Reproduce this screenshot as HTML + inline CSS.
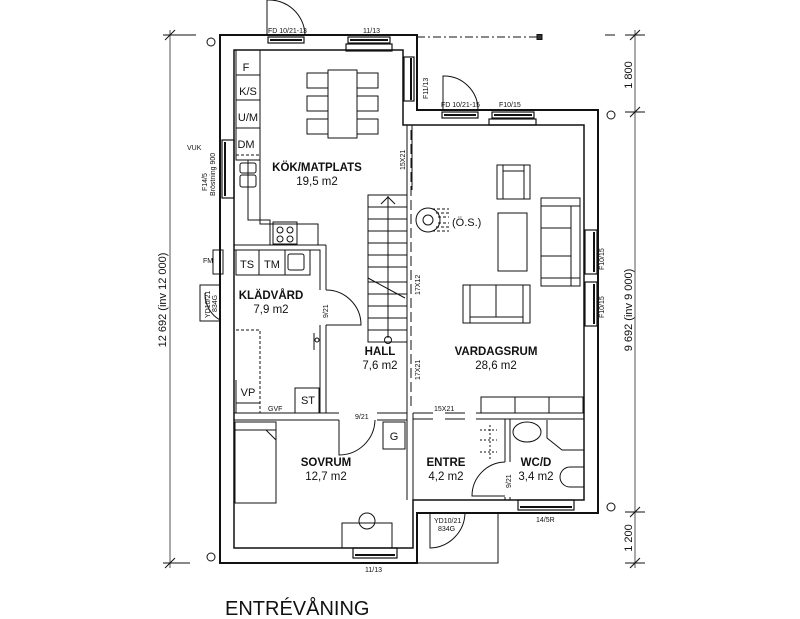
<!DOCTYPE html>
<html><head><meta charset="utf-8"><style>
html,body{margin:0;padding:0;background:#fff;}
svg{display:block;}
text{font-family:"Liberation Sans",sans-serif;fill:#111;}
.rn{font-weight:bold;font-size:11.5px;text-anchor:middle;}
.ar{font-size:11.5px;text-anchor:middle;}
.sm{font-size:7px;}
.lb{font-size:11px;text-anchor:middle;}
</style></head><body>
<svg width="800" height="619" viewBox="0 0 800 619" xmlns="http://www.w3.org/2000/svg">
<g fill="none" stroke="#111" stroke-width="1">
<!-- dimension lines -->
<line x1="170" y1="30" x2="170" y2="568" stroke="#555"/>
<line x1="163" y1="35" x2="190" y2="35"/><line x1="165" y1="40" x2="175" y2="30"/>
<line x1="163" y1="563" x2="190" y2="563"/><line x1="165" y1="568" x2="175" y2="558"/>
<line x1="635" y1="30" x2="635" y2="568" stroke="#555"/>
<line x1="625" y1="35" x2="645" y2="35"/><line x1="630" y1="40" x2="640" y2="30"/>
<line x1="625" y1="112" x2="645" y2="112"/><line x1="630" y1="117" x2="640" y2="107"/>
<line x1="625" y1="512" x2="645" y2="512"/><line x1="630" y1="517" x2="640" y2="507"/>
<line x1="625" y1="563" x2="645" y2="563"/><line x1="630" y1="568" x2="640" y2="558"/>
<line x1="185" y1="35" x2="196" y2="35"/><line x1="605" y1="35" x2="615" y2="35"/>
<circle cx="211" cy="42" r="4"/><circle cx="611" cy="115" r="4"/><circle cx="611" cy="507" r="4"/><circle cx="211" cy="557" r="4"/>
<line x1="417" y1="37" x2="538" y2="37" stroke-dasharray="8,3,2,3"/>
<rect x="537" y="34.5" width="5" height="5" fill="#333"/>

<!-- outer walls -->
<path d="M220,35 H417 V110 H598 V513 H417 V563 H220 Z" stroke-width="2"/>
<path d="M234,50 H403 V125 H584 V500 H413 V548 H234 Z" stroke-width="1.5"/>
<rect x="417" y="513" width="81" height="50"/>
<!-- interior walls -->
<path d="M407,125 V245 M412,125 V190"/>
<line x1="411" y1="130" x2="411" y2="410" stroke-dasharray="10,4"/>
<path d="M407,245 V270 M407,300 V342 M407,342 V413"/>
<path d="M234,245 H326 M234,250 H320 V290 M326,245 V290 M320,325 V413 M326,325 V413"/>
<path d="M234,413 H339 M234,420 H339 M377,413 H407 M377,420 H407"/>
<path d="M407,413 V500 M413,413 V500"/>
<path d="M413,413 H433 M413,419 H433 M445,413 H465 M445,419 H465" />
<path d="M476,413 H584 M476,419 H584"/>
<path d="M505,419 V462 M510,419 V462 M505,497 V500 M510,497 V500"/>
<!-- doors -->
<path d="M326,290 A35,35 0 0 1 361,325 H326"/>
<path d="M339,420 V455 A36,36 0 0 0 375,420" transform="translate(0,0)"/>
<path d="M505,462 A34,34 0 0 0 472,496 H505"/>
<path d="M267,35 V0 A36,36 0 0 1 305,35"/>
<path d="M443,110 V76 A34,34 0 0 1 478,110"/>
<path d="M430,513 V548 A36,36 0 0 0 465,513"/>
<path d="M205,293 A30,30 0 0 0 220,320"/><rect x="200" y="285" width="20" height="36"/>
<rect x="213" y="250" width="10" height="24"/>
<!-- windows -->
<g stroke-width="1.2">
<rect x="268" y="37" width="36" height="6"/><line x1="270" y1="40" x2="302" y2="40" stroke-width="2"/>
<rect x="348" y="37" width="42" height="6"/><line x1="350" y1="40" x2="388" y2="40" stroke-width="2"/><rect x="346" y="44" width="46" height="7"/>
<rect x="404" y="57" width="10" height="44"/><line x1="411" y1="58" x2="411" y2="100" stroke-width="2"/>
<rect x="442" y="112" width="36" height="6"/><line x1="444" y1="115" x2="476" y2="115" stroke-width="2"/>
<rect x="492" y="112" width="42" height="6"/><line x1="494" y1="115" x2="532" y2="115" stroke-width="2"/><rect x="489" y="119" width="47" height="6"/>
<rect x="585" y="230" width="12" height="44"/><line x1="594" y1="232" x2="594" y2="272" stroke-width="2"/>
<rect x="585" y="282" width="12" height="44"/><line x1="594" y1="284" x2="594" y2="324" stroke-width="2"/>
<rect x="222" y="140" width="12" height="58"/><line x1="225" y1="142" x2="225" y2="196" stroke-width="2"/>
<rect x="353" y="548" width="44" height="10"/><line x1="355" y1="555" x2="395" y2="555" stroke-width="2"/>
<rect x="518" y="500" width="56" height="10"/><line x1="520" y1="507" x2="572" y2="507" stroke-width="2"/>
</g>
<!-- kitchen -->
<path d="M236,50 V160 H260 V50 M236,75 H260 M236,100 H260 M236,128 H260"/>
<line x1="236" y1="155" x2="260" y2="155" stroke-dasharray="3,2"/>
<path d="M248,160 V220 H270 V245 M260,160 V224 H318 V245"/>
<rect x="240" y="163" width="16" height="10" rx="2"/><rect x="240" y="175" width="16" height="12" rx="2"/>
<rect x="273" y="222" width="24" height="22"/><circle cx="280" cy="230" r="3"/><circle cx="290" cy="230" r="3"/><circle cx="280" cy="239" r="3"/><circle cx="290" cy="239" r="3"/>
<!-- dining -->
<rect x="328" y="70" width="29" height="68"/>
<rect x="307" y="73" width="21" height="15"/><rect x="307" y="96" width="21" height="15"/><rect x="307" y="119" width="21" height="15"/>
<rect x="357" y="73" width="21" height="15"/><rect x="357" y="96" width="21" height="15"/><rect x="357" y="119" width="21" height="15"/>
<!-- klädvård -->
<path d="M236,250 V275 H310 V250 M259,250 V275 M285,250 V275"/><rect x="288" y="254" width="16" height="16" rx="2"/>
<path d="M236,330 H260 V413" stroke-dasharray="3,2"/>
<path d="M236,380 V403 H260 M236,403 V413"/>
<rect x="295" y="388" width="24" height="25"/>
<circle cx="317" cy="340" r="2"/><line x1="314" y1="333" x2="314" y2="350"/>
<!-- stairs -->
<rect x="368" y="195" width="39" height="147"/>
<g>
<line x1="368" y1="207" x2="407" y2="207"/><line x1="368" y1="219" x2="407" y2="219"/><line x1="368" y1="231" x2="407" y2="231"/><line x1="368" y1="243" x2="407" y2="243"/><line x1="368" y1="255" x2="407" y2="255"/><line x1="368" y1="267" x2="407" y2="267"/><line x1="368" y1="282" x2="407" y2="282"/><line x1="368" y1="294" x2="407" y2="294"/><line x1="368" y1="306" x2="407" y2="306"/><line x1="368" y1="318" x2="407" y2="318"/><line x1="368" y1="330" x2="407" y2="330"/>
<line x1="388" y1="196" x2="388" y2="338"/><line x1="368" y1="278" x2="405" y2="298"/>
<path d="M381,204 L388,197 L395,204"/><circle cx="388" cy="340" r="3.5"/>
</g>
<!-- stove -->
<circle cx="428" cy="220" r="12"/><circle cx="428" cy="220" r="5"/>
<path d="M432,209 H449 M436,213 H449 M438,217 H449 M438,223 H449 M436,227 H449 M432,231 H449" stroke-dasharray="3,2"/>
<!-- living -->
<rect x="497" y="165" width="33" height="34"/><path d="M503,165 V199 M524,165 V199 M503,171 H524"/>
<rect x="498" y="213" width="29" height="58"/>
<rect x="541" y="198" width="39" height="88"/><path d="M541,206 H580 M571,206 V286 M541,228 H571 M541,256 H571 M541,278 H580"/>
<rect x="463" y="285" width="67" height="38"/><path d="M470,285 V323 M523,285 V323 M470,317 H523 M496,285 V317"/>
<rect x="481" y="397" width="102" height="16"/><path d="M515,397 V413 M549,397 V413"/>
<!-- sovrum -->
<rect x="235" y="422" width="41" height="81"/><path d="M235,430 H276 M266,430 L276,440"/>
<rect x="342" y="523" width="50" height="25"/><circle cx="367" cy="521" r="8"/>
<rect x="383" y="422" width="22" height="27"/>
<!-- entre/wc -->
<path d="M490,425 V460 M480,430 H497 M480,440 H497 M480,452 H497" stroke-dasharray="2,2"/>
<ellipse cx="527" cy="432" rx="14" ry="10"/>
<path d="M547,420 V438 L562,450 H584"/>
<path d="M584,467 H570 A10,10 0 0 0 570,487 H584"/>
</g>
<!-- text -->
<text x="268" y="33" class="sm">FD 10/21-13</text><text x="363" y="33" class="sm">11/13</text>
<text x="441" y="107" class="sm">FD 10/21-15</text><text x="499" y="107" class="sm">F10/15</text>
<text x="365" y="572" class="sm">11/13</text><text x="536" y="522" class="sm">14/5R</text>
<text x="434" y="523" class="sm">YD10/21</text><text x="438" y="531" class="sm">834G</text>
<text x="434" y="411" class="sm">15X21</text>
<text x="187" y="150" class="sm">VUK</text><text x="203" y="263" class="sm">FM</text>
<text x="268" y="411" class="sm">GVF</text><text x="355" y="419" class="sm">9/21</text>
<text transform="translate(428,99) rotate(-90)" class="sm">F11/13</text>
<text transform="translate(207,191) rotate(-90)" class="sm">F14/5</text>
<text transform="translate(215,196) rotate(-90)" class="sm">Bröstning 900</text>
<text transform="translate(210,318) rotate(-90)" class="sm">YD10/21</text>
<text transform="translate(217,312) rotate(-90)" class="sm">834G</text>
<text transform="translate(604,270) rotate(-90)" class="sm">F10/15</text>
<text transform="translate(604,318) rotate(-90)" class="sm">F10/15</text>
<text transform="translate(405,170) rotate(-90)" class="sm">15X21</text>
<text transform="translate(420,295) rotate(-90)" class="sm">17X12</text>
<text transform="translate(420,380) rotate(-90)" class="sm">17X21</text>
<text transform="translate(328,318) rotate(-90)" class="sm">9/21</text>
<text transform="translate(511,488) rotate(-90)" class="sm">9/21</text>
<text x="246" y="71" class="lb">F</text><text x="248" y="95" class="lb">K/S</text><text x="248" y="121" class="lb">U/M</text><text x="246" y="148" class="lb">DM</text>
<text x="247" y="268" class="lb">TS</text><text x="272" y="268" class="lb">TM</text>
<text x="248" y="396" class="lb">VP</text><text x="308" y="404" class="lb">ST</text><text x="394" y="440" class="lb">G</text>
<text x="452" y="226" style="font-size:11px">(Ö.S.)</text>
<text x="317" y="171" class="rn">KÖK/MATPLATS</text><text x="317" y="185" class="ar">19,5 m2</text>
<text x="271" y="299" class="rn">KLÄDVÅRD</text><text x="271" y="313" class="ar">7,9 m2</text>
<text x="380" y="355" class="rn">HALL</text><text x="380" y="369" class="ar">7,6 m2</text>
<text x="496" y="355" class="rn">VARDAGSRUM</text><text x="496" y="369" class="ar">28,6 m2</text>
<text x="326" y="466" class="rn">SOVRUM</text><text x="326" y="480" class="ar">12,7 m2</text>
<text x="446" y="466" class="rn">ENTRE</text><text x="446" y="480" class="ar">4,2 m2</text>
<text x="536" y="466" class="rn">WC/D</text><text x="536" y="480" class="ar">3,4 m2</text>
<text transform="translate(166,300) rotate(-90)" style="font-size:11px;text-anchor:middle">12 692 (inv 12 000)</text>
<text transform="translate(632,310) rotate(-90)" style="font-size:11px;text-anchor:middle">9 692 (inv 9 000)</text>
<text transform="translate(632,75) rotate(-90)" style="font-size:11px;text-anchor:middle">1 800</text>
<text transform="translate(632,538) rotate(-90)" style="font-size:11px;text-anchor:middle">1 200</text>
<text x="225" y="615" style="font-size:20px">ENTRÉVÅNING</text>
</svg>
</body></html>
